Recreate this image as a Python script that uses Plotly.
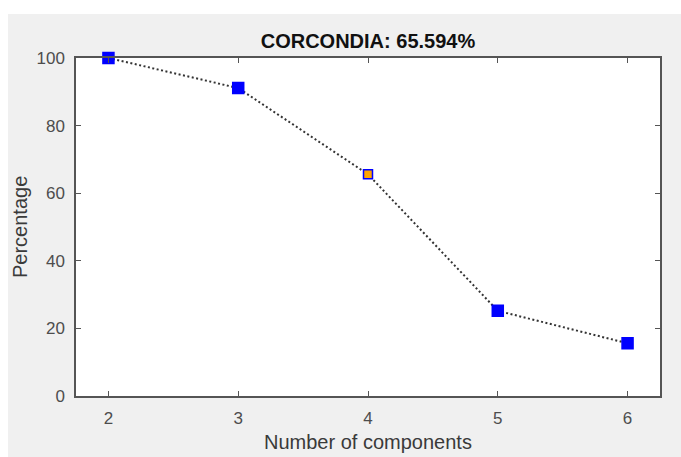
import plotly.graph_objects as go

components = [2, 3, 4, 5, 6]
percentage = [100, 91.1, 65.594, 25.2, 15.6]
marker_fill = ["#0000ff", "#0000ff", "#ffa500", "#0000ff", "#0000ff"]
marker_size = [11, 11, 9, 11, 11]
title_text = "CORCONDIA: 65.594%"
x_title = "Number of components"
y_title = "Percentage"
x_ticks = [2, 3, 4, 5, 6]
y_ticks = [0, 20, 40, 60, 80, 100]

W, H = 681, 457
L, R, T, B = 76, 21, 58, 61
pw, ph = W - L - R, H - T - B
FONT = "Liberation Sans, Arial, sans-serif"

fig = go.Figure()
fig.add_trace(go.Scatter(
    x=components, y=percentage, mode="lines+markers",
    line=dict(color="#333333", width=2, dash="2px,2.5px"),
    marker=dict(symbol="square", size=marker_size, color=marker_fill, opacity=1,
                line=dict(color="#0000ff", width=1.5)),
    opacity=1, cliponaxis=False, showlegend=False,
))

axis_common = dict(
    showline=True, linecolor="#555555", linewidth=1.5, mirror="ticks",
    ticks="inside", ticklen=5, tickwidth=1.2, tickcolor="#555555",
    showgrid=False, zeroline=False, automargin=False,
    tickfont=dict(family=FONT, size=17, color="#4d4d4d"),
    ticklabelstandoff=6,
)

fig.update_layout(
    width=W, height=H,
    margin=dict(l=L, r=R, t=T, b=B, pad=0, autoexpand=False),
    paper_bgcolor="#f0f0f0", plot_bgcolor="#ffffff",
    title=dict(text="<b>" + title_text + "</b>", x=(L + pw / 2) / W, xanchor="center",
               y=1 - 41 / H, yanchor="middle",
               font=dict(family=FONT, size=20, color="#111111")),
    xaxis=dict(range=[1.75, 6.25], tickvals=x_ticks, **axis_common),
    yaxis=dict(range=[0, 100], tickvals=y_ticks, **axis_common),
    annotations=[
        dict(text=x_title, xref="paper", yref="paper", x=0.5, y=0,
             xanchor="center", yanchor="middle", yshift=-46, showarrow=False,
             font=dict(family=FONT, size=20, color="#3a3a3a")),
        dict(text=y_title, xref="paper", yref="paper", x=0, y=0.5,
             xanchor="center", yanchor="middle", xshift=-56, textangle=-90,
             showarrow=False, font=dict(family=FONT, size=20, color="#3a3a3a")),
    ],
    shapes=[
        dict(type="rect", xref="paper", yref="paper",
             x0=-L / pw - 0.05, x1=1 + R / pw + 0.05,
             y0=1 + (T - 14) / ph, y1=1 + T / ph + 0.05,
             fillcolor="#ffffff", line=dict(width=0), layer="below"),
        dict(type="rect", xref="paper", yref="paper",
             x0=-L / pw - 0.05, x1=-(L - 8) / pw,
             y0=-B / ph - 0.05, y1=1 + T / ph + 0.05,
             fillcolor="#ffffff", line=dict(width=0), layer="below"),
    ],
)

fig.write_html("out.html")
